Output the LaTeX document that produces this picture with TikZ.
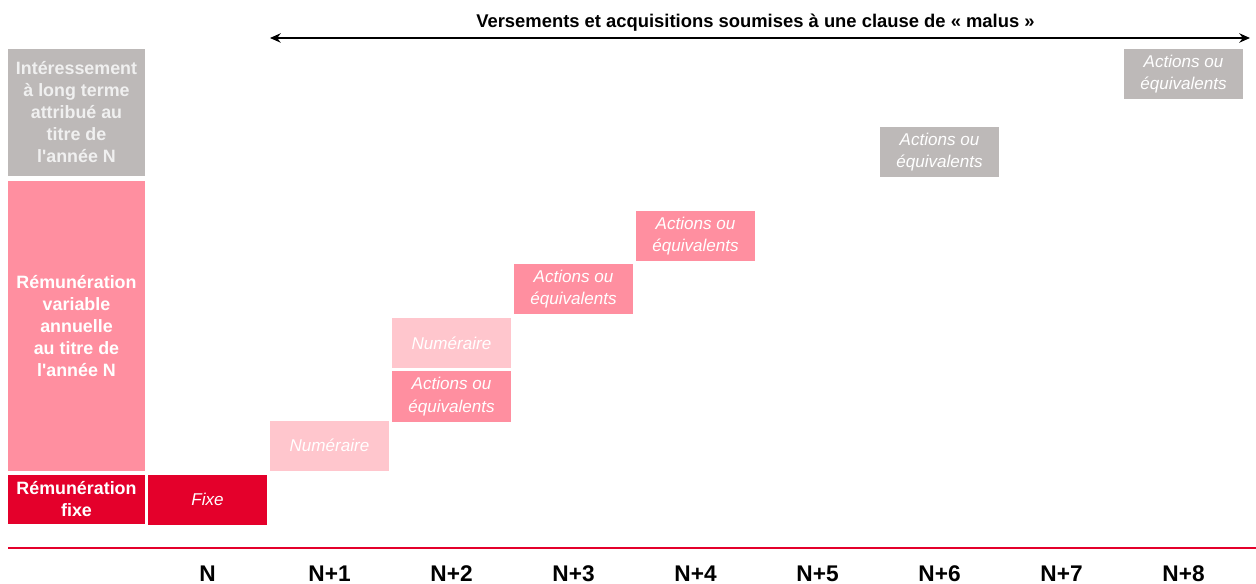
\documentclass[tikz,border=0pt]{standalone}
\usepackage{fontspec}
\setmainfont{Liberation Sans}[Ligatures=TeXOff]
\usetikzlibrary{arrows.meta}
\definecolor{cgray}{HTML}{BDB9B8}
\definecolor{cpink}{HTML}{FF8FA0}
\definecolor{clight}{HTML}{FFC6CD}
\definecolor{cred}{HTML}{E4002B}
\begin{document}
\begin{tikzpicture}[x=0.75pt,y=-0.75pt,
  lab/.style={rectangle, inner sep=0pt, minimum width=102.75pt, text=white,
    font=\fontsize{13.4}{16.5}\selectfont\bfseries, align=center},
  pay/.style={rectangle, inner sep=0pt, minimum width=89.25pt, minimum height=37.5pt,
    text=white, font=\fontsize{12.8}{17}\selectfont\itshape, align=center},
  yr/.style={anchor=base, font=\fontsize{17}{19}\selectfont\bfseries}]
\useasboundingbox (0,0) rectangle (1256,584);
% left labels
\node[lab, fill=cgray, minimum height=95.25pt, text=white!94!black] (lt) at (76.5,112.5)
  {Intéressement\\à long terme\\attribué au\\titre de\\l'année N};
\node[lab, fill=cpink, minimum height=217.5pt] (var) at (76.5,326)
  {Rémunération\\variable\\annuelle\\au titre de\\l'année N};
\node[lab, fill=cred, minimum height=36.75pt] (fix) at (76.5,499.5)
  {Rémunération\\fixe};
% payment boxes
\node[pay, fill=cred] (p0) at (207.5,499.5) {Fixe};
\node[pay, fill=clight] (p1) at (329.5,445.5) {Numéraire};
\node[pay, fill=cpink] (p2a) at (451.5,396.5) {Actions ou\\équivalents};
\node[pay, fill=clight] (p2n) at (451.5,343) {Numéraire};
\node[pay, fill=cpink] (p3) at (573.5,289) {Actions ou\\équivalents};
\node[pay, fill=cpink] (p4) at (695.5,236) {Actions ou\\équivalents};
\node[pay, fill=cgray] (p6) at (939.5,152) {Actions ou\\équivalents};
\node[pay, fill=cgray] (p8) at (1183.5,74) {Actions ou\\équivalents};
% axis
\coordinate (axl) at (8,547.5);
\coordinate (axr) at (1256,547.5);
\draw[cred, line width=1.5pt] (axl) -- (axr);
\node[yr] (yN) at (207.5,581) {N};
\node[yr] (y1) at (329.5,581) {N+1};
\node[yr] (y2) at (451.5,581) {N+2};
\node[yr] (y3) at (573.5,581) {N+3};
\node[yr] (y4) at (695.5,581) {N+4};
\node[yr] (y5) at (817.5,581) {N+5};
\node[yr] (y6) at (939.5,581) {N+6};
\node[yr] (y7) at (1061.5,581) {N+7};
\node[yr] (y8) at (1183.5,581) {N+8};
% malus arrow
\coordinate (al) at (270,38);
\coordinate (ar) at (1250,38);
\draw[line width=1.5pt, {Stealth[length=8pt,width=7pt]}-{Stealth[length=8pt,width=7pt]}] (al) -- (ar);
\node[anchor=base, font=\fontsize{13.8}{15}\selectfont\bfseries] (title) at (755.5,28)
  {Versements et acquisitions soumises à une clause de « malus »};
\end{tikzpicture}
\end{document}
